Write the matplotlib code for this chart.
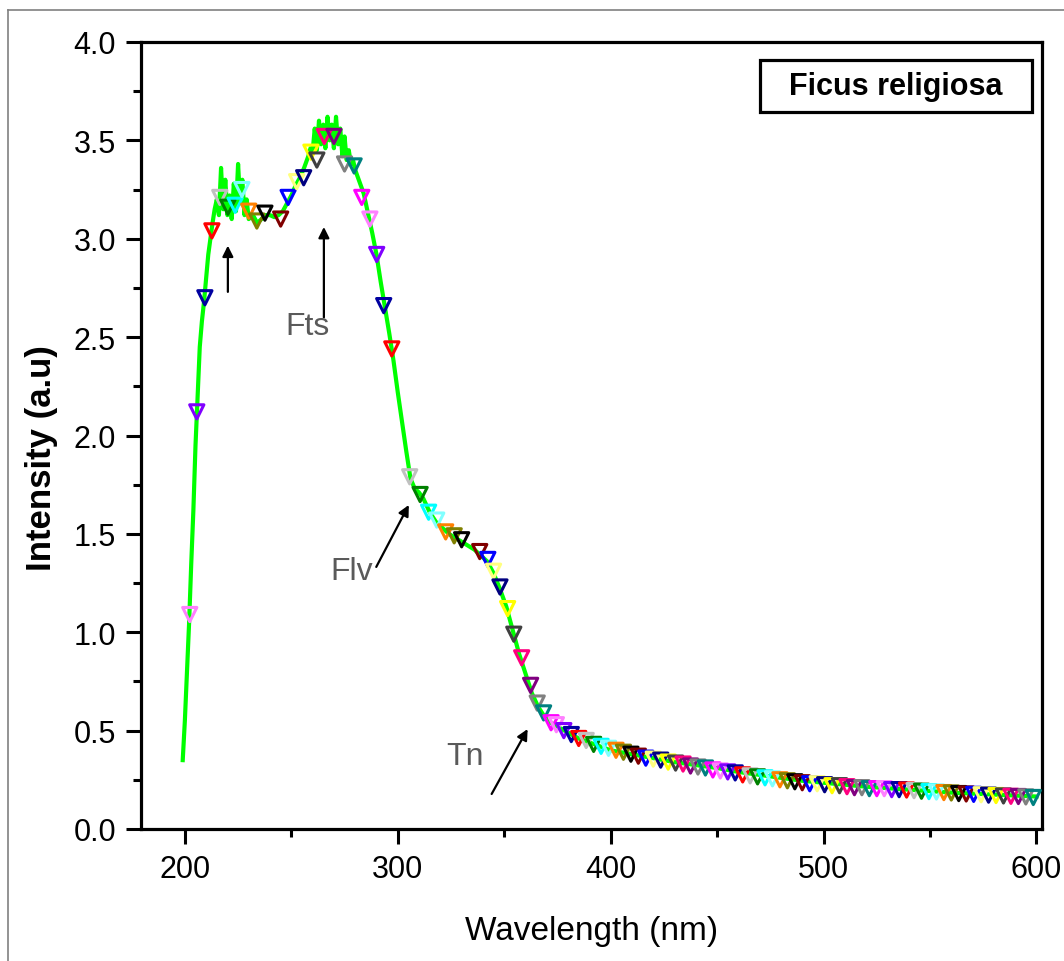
import matplotlib
matplotlib.use("Agg")
import matplotlib.pyplot as plt
from matplotlib.lines import Line2D
from matplotlib.patches import Rectangle
from matplotlib.ticker import MultipleLocator

# ---------------- data ----------------
line_wl = [199, 200, 201, 202, 203, 204, 205, 206, 207, 208, 209, 210, 211, 212,
           213, 214, 215, 216, 217, 218, 219, 220, 221, 222, 223, 224, 225, 226,
           227, 228, 229, 230, 232, 234, 236, 238, 240, 242, 244, 246, 248, 250,
           252, 254, 256, 258, 259, 260, 261, 262, 263, 264, 265, 266, 267, 268,
           269, 270, 271, 272, 273, 274, 275, 276, 277, 278, 279, 280, 282, 284,
           286, 288, 290, 292, 294, 296, 298, 300, 302, 304, 306, 308, 310, 312,
           315, 318, 321, 324, 327, 330, 333, 336, 339, 342, 345, 348, 351, 354,
           357, 360, 363, 366, 369, 372, 375, 380, 385, 390, 400, 410, 420, 430,
           440, 450, 460, 470, 480, 490, 500, 520, 540, 560, 580, 600]
line_int = [0.35, 0.55, 0.80, 1.05, 1.35, 1.62, 1.95, 2.20, 2.45, 2.58, 2.68, 2.80, 2.92, 3.00,
            3.08, 3.15, 3.20, 3.12, 3.36, 3.15, 3.30, 3.12, 3.22, 3.10, 3.28, 3.14, 3.38, 3.18,
            3.30, 3.12, 3.20, 3.10, 3.12, 3.08, 3.10, 3.12, 3.12, 3.11, 3.12, 3.14, 3.18, 3.22,
            3.27, 3.31, 3.36, 3.42, 3.46, 3.44, 3.56, 3.45, 3.60, 3.48, 3.58, 3.46, 3.62, 3.50,
            3.58, 3.46, 3.62, 3.48, 3.56, 3.42, 3.52, 3.40, 3.45, 3.38, 3.40, 3.35, 3.29, 3.23,
            3.13, 3.03, 2.92, 2.78, 2.65, 2.52, 2.38, 2.22, 2.07, 1.92, 1.78, 1.73, 1.71, 1.68,
            1.61, 1.56, 1.53, 1.50, 1.48, 1.46, 1.44, 1.42, 1.39, 1.36, 1.30, 1.22, 1.13, 1.01,
            0.89, 0.79, 0.69, 0.62, 0.57, 0.54, 0.52, 0.49, 0.46, 0.44, 0.40, 0.38, 0.36, 0.34,
            0.325, 0.31, 0.29, 0.275, 0.26, 0.245, 0.235, 0.215, 0.20, 0.185, 0.175, 0.165]

mk_wl = [202.3, 205.6, 209.4, 212.7, 216.4, 220.2, 223.6, 226.8, 230.0, 233.8, 237.6, 245.0,
         248.5, 252.5, 255.8, 259.2, 262.0, 265.5, 270.0, 275.0, 279.5, 283.1, 286.9, 290.1,
         293.4, 297.2, 305.6, 310.5, 314.5, 318.3, 322.5, 326.5, 330.0, 338.5, 342.3, 345.0,
         348.0, 351.6, 354.5, 358.2, 362.4, 365.5, 368.5, 372.0, 374.5, 378.0, 381.5, 385.0,
         388.5, 392, 395.5, 399, 402.5, 406, 409.5, 413, 416.5, 420, 423.5, 427, 430.5, 434,
         437.5, 441, 444.5, 448, 451.5, 455, 458.5, 462, 465.5, 469, 472.5, 476, 479.5, 483,
         486.5, 490, 493.5, 497, 500.5, 504, 507.5, 511, 514.5, 518, 521.5, 525, 528.5, 532,
         535.5, 539, 542.5, 546, 549.5, 553, 556.5, 560, 563.5, 567, 570.5, 574, 577.5, 581,
         584.5, 588, 591.5, 595, 598.5]
mk_int = [1.09, 2.12, 2.70, 3.04, 3.21, 3.16, 3.17, 3.25, 3.14, 3.09, 3.13, 3.10,
          3.21, 3.29, 3.31, 3.44, 3.40, 3.52, 3.52, 3.38, 3.37, 3.21, 3.10, 2.92,
          2.66, 2.44, 1.79, 1.70, 1.61, 1.57, 1.51, 1.49, 1.47, 1.41, 1.37, 1.31,
          1.23, 1.12, 0.99, 0.87, 0.73, 0.64, 0.59, 0.54, 0.53, 0.50, 0.48, 0.46,
          0.45, 0.43, 0.42, 0.41, 0.40, 0.39, 0.38, 0.37, 0.36, 0.355, 0.35, 0.34, 0.335, 0.33,
          0.32, 0.315, 0.31, 0.30, 0.295, 0.29, 0.285, 0.275, 0.27, 0.265, 0.26, 0.255, 0.25, 0.245,
          0.24, 0.235, 0.23, 0.23, 0.225, 0.22, 0.22, 0.215, 0.21, 0.21, 0.205, 0.205, 0.205, 0.20,
          0.20, 0.198, 0.195, 0.192, 0.19, 0.188, 0.185, 0.183, 0.18, 0.178, 0.176, 0.174, 0.172, 0.17,
          0.168, 0.166, 0.165, 0.163, 0.16]

x_ticks = [200, 300, 400, 500, 600]
y_ticks = [0.0, 0.5, 1.0, 1.5, 2.0, 2.5, 3.0, 3.5, 4.0]
legend_label = "Ficus religiosa"
annotations = [  # (label, label_x, label_y, tail_x, tail_y, head_x, head_y)
    ("",    None,  None,  220.2, 2.73,  220.2, 2.965),
    ("Fts", 257.7, 2.516, 265.3, 2.60,  265.3, 3.06),
    ("Flv", 278.2, 1.271, 289.9, 1.332, 305.2, 1.647),
    ("Tn",  331.5, 0.330, 344.1, 0.178, 361.0, 0.508),
]

# ---------------- style ----------------
marker_cycle = ['#c0c0c0', '#008000', '#00ffff', '#80ffff', '#ff8000', '#808000',
                '#000000', '#800000', '#0000ff', '#ffff80', '#000080', '#ffff00',
                '#404040', '#ff0080', '#800080', '#808080', '#008080', '#ff00ff',
                '#ff80ff', '#8000ff', '#0000a0', '#ff0000']
mk_colors = [marker_cycle[(i + 18) % len(marker_cycle)] for i in range(len(mk_wl))]

plt.rcParams['font.family'] = ['Liberation Sans', 'DejaVu Sans']

W, H = 1064, 962
fig = plt.figure(figsize=(W / 100, H / 100), dpi=100)
ax = fig.add_axes([141 / W, 1 - 830 / H, (1042 - 141) / W, (830 - 43) / H])

ax.plot(line_wl, line_int, color='#00ff00', lw=3.0, zorder=2)
ax.scatter(mk_wl, mk_int, marker='v', s=105, facecolors='none',
           edgecolors=mk_colors, linewidths=2.2, zorder=3)

ax.set_xlim(179.4, 602.6)
ax.set_ylim(0, 4.0)
ax.set_xticks(x_ticks)
ax.set_yticks(y_ticks)
ax.set_xticklabels([str(v) for v in x_ticks])
ax.set_yticklabels([f"{v:.1f}" for v in y_ticks])
ax.xaxis.set_minor_locator(MultipleLocator(50))
ax.yaxis.set_minor_locator(MultipleLocator(0.25))
ax.tick_params(which='major', direction='out', length=11, width=2.2,
               labelsize=22, pad=7)
ax.tick_params(which='minor', direction='out', length=6, width=2.2)
for s in ax.spines.values():
    s.set_linewidth(2.3)

ax.set_xlabel("Wavelength (nm)", fontsize=24, labelpad=22)
ax.set_ylabel("Intensity (a.u)", fontsize=25, fontweight='bold')
ax.yaxis.set_label_coords(-0.092, 0.473)

# legend-like box
ax.add_patch(Rectangle((0.687, 0.911), 0.302, 0.066, transform=ax.transAxes,
                       fill=False, edgecolor='black', lw=2.3, zorder=5))
ax.text(0.838, 0.944, legend_label, transform=ax.transAxes, ha='center',
        va='center', fontsize=22, fontweight='bold', zorder=6)

for lab, lx, ly, tx, ty, hx, hy in annotations:
    ax.annotate("", xy=(hx, hy), xytext=(tx, ty),
                arrowprops=dict(arrowstyle='-|>', color='black', lw=1.6,
                                mutation_scale=16, shrinkA=0, shrinkB=0),
                zorder=4)
    if lab:
        ax.text(lx, ly, lab, ha='center', va='baseline', fontsize=23,
                color='#5a5a5a', zorder=4)

# outer frame (top and left edges visible)
fig.add_artist(Line2D([8 / W, 8 / W], [0, 1 - 11 / H], transform=fig.transFigure,
                      color='#808080', lw=1.2))
fig.add_artist(Line2D([8 / W, 1], [1 - 11 / H, 1 - 11 / H], transform=fig.transFigure,
                      color='#808080', lw=1.2))

fig.savefig("out.png", dpi=100)
